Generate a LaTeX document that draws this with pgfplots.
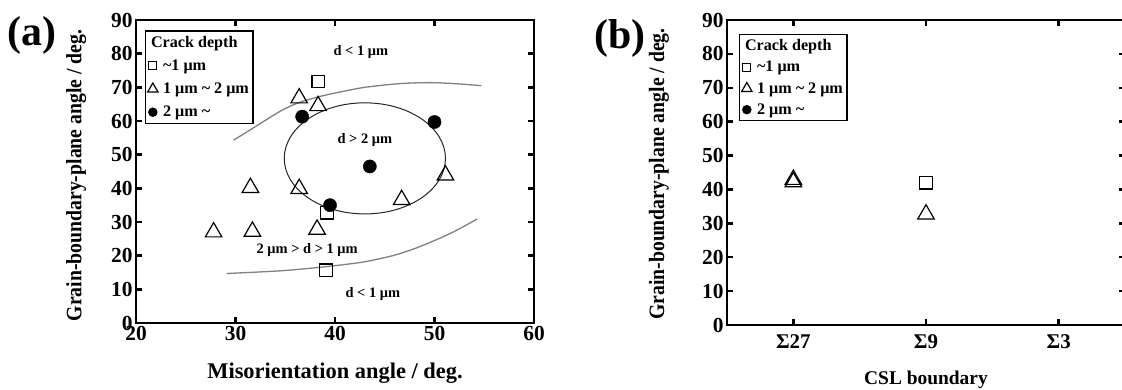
\documentclass[border=0pt]{standalone}
\usepackage{pgfplots}
\pgfplotsset{compat=1.18}
\usepackage{fontspec}
\setmainfont{Liberation Serif}
\newfontfamily\ylabfont{Liberation Serif}[FakeStretch=0.9]
\pgfplotsset{
  mylegend/.style={legend image code/.code={\draw[##1] plot coordinates {(0.17cm,0cm)};}},
  panel/.style={
    scale only axis,
    axis line style={line width=2.6bp},
    tick style={line width=2.4bp, black},
    major tick length=6bp,
    tick align=inside,
    tick label style={font=\fontsize{21.5}{21.5}\selectfont\bfseries},
    /pgf/number format/assume math mode=true,
    ymin=0, ymax=90, ytick={0,10,...,90},
    legend style={draw=black, line width=1.4bp, inner xsep=2bp, inner ysep=3bp,
      font=\fontsize{16.2}{16.5}\selectfont\bfseries, cells={anchor=west},
      row sep=7bp, /tikz/every odd column/.append style={column sep=3bp}},
  },
  sq/.style={only marks, mark=square, mark size=6.2bp, mark options={line width=1.3bp, draw=black, fill=none}},
  tri/.style={only marks, mark=triangle, mark size=9.5bp, mark options={line width=1.2bp, draw=black, fill=none}},
  dot/.style={only marks, mark=*, mark size=6.6bp, mark options={draw=black, fill=black}},
}
\begin{document}
\begin{tikzpicture}
\path[use as bounding box] (0,0) rectangle (1122bp,390bp);
% ---------- panel (a)
\begin{axis}[panel, at={(136bp,67bp)}, anchor=south west, width=398bp, height=303bp,
  xmin=20, xmax=60, xtick={20,30,...,60},
  xlabel={Misorientation angle / deg.},
  ylabel={Grain-boundary-plane angle / deg.},
  every axis x label/.style={at={(axis description cs:0.5,-0.165)}, anchor=center, font=\fontsize{22.5}{22.5}\selectfont\bfseries},
  every axis y label/.style={at={(axis description cs:-0.150,0.487)}, rotate=90, anchor=center, font=\ylabfont\fontsize{22}{22}\selectfont\bfseries},
  legend style={at={(axis cs:20.9,86.9)}, anchor=north west},
]
\addlegendimage{empty legend}
\addlegendentry{\hspace{-12bp}Crack depth}
\addlegendimage{only marks, mark=square, mark size=4bp, mark options={line width=1.2bp, draw=black}, mylegend}
\addlegendentry{\textasciitilde1 μm}
\addlegendimage{only marks, mark=triangle, mark size=6bp, mark options={line width=1.2bp, draw=black}, mylegend}
\addlegendentry{1 μm \textasciitilde\ 2 μm}
\addlegendimage{only marks, mark=*, mark size=4bp, mark options={draw=black, fill=black}, mylegend}
\addlegendentry{2 μm \textasciitilde}
% boundary curves
\addplot[forget plot, no marks, smooth, color=black!50, line width=1.3bp] coordinates {
 (29.8,54.3) (31.5,57.4) (33.0,60.2) (34.8,63.4) (36.5,65.6) (38.5,67.3)
 (40.5,68.6) (43.0,70.0) (46.5,71.1) (49.5,71.4) (52.0,71.1) (54.7,70.5)};
\addplot[forget plot, no marks, smooth, color=black!50, line width=1.3bp] coordinates {
 (29.1,14.7) (32.0,15.1) (35.0,15.6) (38.0,16.4) (40.5,17.2) (43.0,18.2)
 (45.8,20.0) (48.0,22.1) (50.0,24.5) (52.0,27.2) (54.3,30.9)};
\draw[line width=1bp, black!85] (axis cs:43.0,48.9) ellipse [x radius=8.1, y radius=16.5];
% data
\addplot[forget plot, sq] coordinates {(38.3,71.7) (39.2,32.7) (39.1,15.7)};
\addplot[forget plot, tri] coordinates {(36.4,66.8) (38.3,64.5) (31.5,40.2) (36.4,39.9)
 (46.7,36.6) (51.1,43.9) (27.8,27.0) (31.7,27.2) (38.2,27.8)};
\addplot[forget plot, dot] coordinates {(36.7,61.3) (50.0,59.7) (43.5,46.5) (39.5,35.0)};
% annotations
\node[font=\fontsize{14.5}{14.5}\selectfont\bfseries] at (axis cs:42.6,80.4) {d < 1 μm};
\node[font=\fontsize{14.5}{14.5}\selectfont\bfseries] at (axis cs:43.0,54.3) {d > 2 μm};
\node[font=\fontsize{14.5}{14.5}\selectfont\bfseries] at (axis cs:37.2,21.7) {2 μm > d > 1 μm};
\node[font=\fontsize{14.5}{14.5}\selectfont\bfseries] at (axis cs:43.8,8.5) {d < 1 μm};
\end{axis}
% ---------- panel (b)
\begin{axis}[panel, at={(727bp,65bp)}, anchor=south west, width=398bp, height=305bp,
  xmin=0.5, xmax=3.5, xtick={1,2,3}, xticklabels={Σ27,Σ9,Σ3},
  xticklabel style={font=\fontsize{21}{21}\selectfont\bfseries, yshift=-6bp},
  xlabel={CSL boundary},
  ylabel={Grain-boundary-plane angle / deg.},
  every axis x label/.style={at={(axis description cs:0.5,-0.18)}, anchor=center, font=\fontsize{19.5}{19.5}\selectfont\bfseries},
  every axis y label/.style={at={(axis description cs:-0.171,0.495)}, rotate=90, anchor=center, font=\ylabfont\fontsize{22}{22}\selectfont\bfseries},
  legend style={at={(axis cs:0.59,85.9)}, anchor=north west, row sep=5bp},
]
\addlegendimage{empty legend}
\addlegendentry{\hspace{-12bp}Crack depth}
\addlegendimage{only marks, mark=square, mark size=4bp, mark options={line width=1.2bp, draw=black}, mylegend}
\addlegendentry{\textasciitilde1 μm}
\addlegendimage{only marks, mark=triangle, mark size=6bp, mark options={line width=1.2bp, draw=black}, mylegend}
\addlegendentry{1 μm \textasciitilde\ 2 μm}
\addlegendimage{only marks, mark=*, mark size=4bp, mark options={draw=black, fill=black}, mylegend}
\addlegendentry{2 μm \textasciitilde}
\addplot[forget plot, sq] coordinates {(2,42.0)};
\addplot[forget plot, tri] coordinates {(1,42.9) (1,42.2) (2,32.7)};
\end{axis}
% panel letters
\node[font=\fontsize{42}{42}\selectfont\bfseries] at (32bp,355bp) {(a)};
\node[font=\fontsize{42}{42}\selectfont\bfseries] at (620bp,352bp) {(b)};
\end{tikzpicture}
\end{document}
